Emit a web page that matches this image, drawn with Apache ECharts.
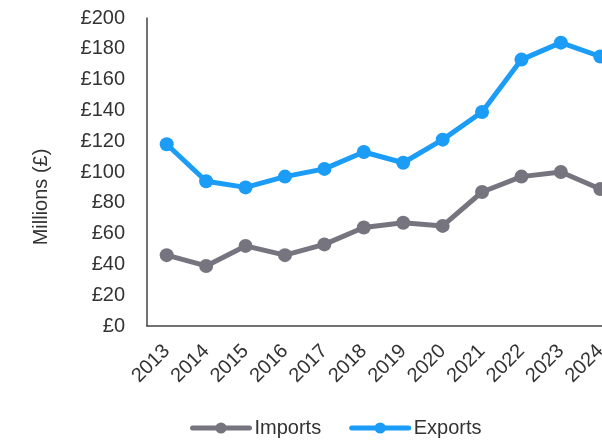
<!DOCTYPE html>
<html>
<head>
<meta charset="utf-8">
<script src="https://cdn.jsdelivr.net/npm/echarts@6/dist/echarts.min.js"></script>
<style>
  html, body { margin: 0; padding: 0; background: #ffffff; overflow: hidden; }
  /* plot runs slightly past the right edge of the window */
  #chart { width: 620px; height: 440px; }
</style>
</head>
<body>
<div id="chart"></div>
<script>
// Trade values, millions of pounds, by year
const years = ['2013', '2014', '2015', '2016', '2017', '2018', '2019', '2020', '2021', '2022', '2023', '2024'];
const imports = [46, 39, 52, 46, 53, 64, 67, 65, 87, 97, 100, 89];
const exports = [118, 94, 90, 97, 102, 113, 106, 121, 139, 173, 184, 175];

const font = 'Liberation Sans, Arial, sans-serif';
const textColor = '#333333';

const chart = echarts.init(document.getElementById('chart'), null, { renderer: 'canvas' });

function lineSeries(name, data, color) {
  return {
    name: name,
    type: 'line',
    data: data,
    symbol: 'circle',
    symbolSize: 14,
    lineStyle: { width: 5, color: color, cap: 'round', join: 'round' },
    itemStyle: { color: color },
    emphasis: { disabled: true },
    animation: false
  };
}

chart.setOption({
  animation: false,
  grid: { left: 147, right: 0, top: 18, bottom: 114, containLabel: false },
  legend: {
    top: 418,
    left: 190,
    padding: 0,
    itemWidth: 57,
    itemHeight: 14,
    itemGap: 28,
    lineStyle: { width: 5, cap: 'round' },
    textStyle: { fontFamily: font, fontSize: 20, color: textColor },
    data: ['Imports', 'Exports']
  },
  xAxis: {
    type: 'category',
    data: years,
    boundaryGap: true,
    axisLine: { lineStyle: { color: '#444444', width: 1.5 } },
    axisTick: { show: false },
    axisLabel: {
      rotate: 45,
      margin: 22,
      fontFamily: font,
      fontSize: 20,
      color: textColor
    }
  },
  yAxis: {
    type: 'value',
    min: 0,
    max: 200,
    interval: 20,
    name: 'Millions (£)',
    nameLocation: 'middle',
    nameGap: 96,
    nameTextStyle: { fontFamily: font, fontSize: 20, color: textColor, padding: [0, 50, 0, 0] },
    axisLine: { show: true, lineStyle: { color: '#444444', width: 1.5 } },
    axisTick: { show: false },
    splitLine: { show: false },
    axisLabel: {
      margin: 22,
      fontFamily: font,
      fontSize: 20,
      color: textColor,
      formatter: v => '£' + v
    }
  },
  series: [
    lineSeries('Imports', imports, '#76747e'),
    lineSeries('Exports', exports, '#1a9cf7')
  ]
});
</script>
</body>
</html>
